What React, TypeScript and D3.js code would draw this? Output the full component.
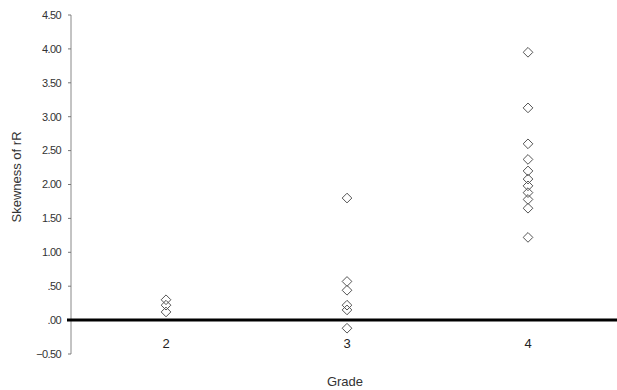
import React from "react";
import * as d3 from "d3";

// grade values and skewness readings per grade
const grade2 = [0.3, 0.22, 0.12];
const grade3 = [1.8, 0.57, 0.44, 0.22, 0.15, -0.12];
const grade4 = [3.95, 3.13, 2.6, 2.37, 2.2, 2.08, 1.98, 1.88, 1.78, 1.65, 1.22];
const grades = [2, 3, 4];
const yTicks = [4.5, 4, 3.5, 3, 2.5, 2, 1.5, 1, 0.5, 0, -0.5];

const fmt = (v: number) => {
  const s = d3.format(".2f")(v);
  return s.replace(/^0\./, ".").replace(/^-0\./, "-.");
};

export default function App() {
  const W = 617,
    H = 390;
  const x = d3.scaleLinear().domain([1.475, 4.5]).range([71, 618.5]);
  const y = d3.scaleLinear().domain([-0.5, 4.5]).range([354, 15]);

  const points = [
    ...grade2.map((v) => ({ g: 2, v })),
    ...grade3.map((v) => ({ g: 3, v })),
    ...grade4.map((v) => ({ g: 4, v })),
  ];
  const diamond = d3.symbol().type(d3.symbolDiamond2).size(60)();

  return (
    <svg
      width={W}
      height={H}
      style={{ position: "absolute", left: 0, top: 0, background: "#fff" }}
      fontFamily="'Liberation Sans', Arial, sans-serif"
    >
      {/* y axis */}
      <line x1={71} x2={71} y1={y(4.5)} y2={y(-0.5)} stroke="#888" strokeWidth={1} />
      {yTicks.map((t) => (
        <g key={t}>
          <line x1={68} x2={71} y1={y(t)} y2={y(t)} stroke="#777" strokeWidth={1} />
          <text
            x={61}
            y={y(t)}
            dy="0.35em"
            textAnchor="end"
            fontSize={11}
            fill="#333"
            letterSpacing={-0.6}
          >
            {fmt(t)}
          </text>
        </g>
      ))}
      {/* zero line */}
      <line x1={67} x2={617} y1={y(0)} y2={y(0)} stroke="#000" strokeWidth={3} />
      {/* x labels */}
      {grades.map((g) => (
        <text key={g} x={x(g)} y={348} textAnchor="middle" fontSize={13} fill="#222">
          {g}
        </text>
      ))}
      <text x={345} y={386} textAnchor="middle" fontSize={13} fill="#333">
        Grade
      </text>
      <text
        transform={`translate(21,177) rotate(-90)`}
        textAnchor="middle"
        fontSize={13}
        fill="#333"
      >
        Skewness of rR
      </text>
      {/* markers */}
      {points.map((p, i) => (
        <path
          key={i}
          d={diamond as string}
          transform={`translate(${x(p.g)},${y(p.v)})`}
          fill="none"
          stroke="#555"
          strokeWidth={1}
        />
      ))}
    </svg>
  );
}
